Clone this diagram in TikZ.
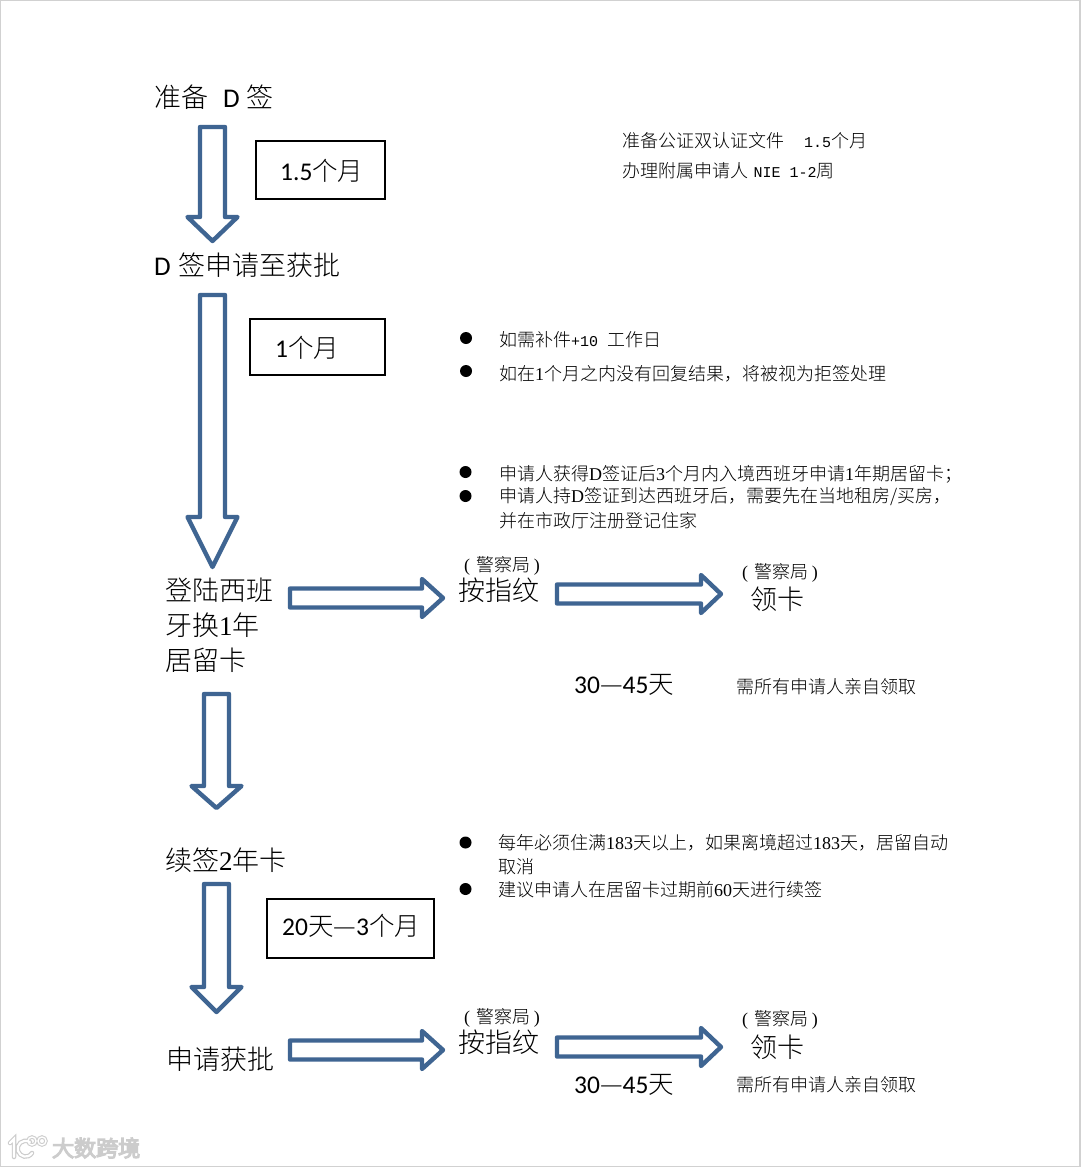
\documentclass[tikz,border=0pt]{standalone}
\usepackage{fontspec}
\setmainfont[UprightFont=* Light,BoldFont=*]{Noto Sans CJK SC}
\newfontfamily\latf{Carlito}
\newfontfamily\monof[Scale=0.833]{Liberation Mono}
\newfontfamily\serf{Liberation Serif}
\newcommand\lat[1]{{\latf #1}}
\newcommand\mn[1]{{\monof #1}}
\newcommand\sr[1]{{\serf #1}}
\usetikzlibrary{calc}
\definecolor{arrowblue}{HTML}{3F6592}
\newcommand\vblock[5]{\draw[blockarrow] ($(#1)+(-#3,0)$) -- ($(#1)+(#3,0)$) -- ($(#2)+(#3,-#5)$) -- ($(#2)+(#4,-#5)$) -- (#2) -- ($(#2)+(-#4,-#5)$) -- ($(#2)+(-#3,-#5)$) -- cycle;}
\newcommand\hblock[5]{\draw[blockarrow] ($(#1)+(0,-#3)$) -- ($(#1)+(0,#3)$) -- ($(#2)+(-#5,#3)$) -- ($(#2)+(-#5,#4)$) -- (#2) -- ($(#2)+(-#5,-#4)$) -- ($(#2)+(-#5,-#3)$) -- cycle;}
\tikzset{
  blockarrow/.style={draw=arrowblue,line width=4.4pt,line join=round,fill=white},
  big/.style={anchor=west,inner sep=0pt,font=\fontsize{27}{27}\selectfont},
  mid/.style={anchor=west,inner sep=0pt,font=\fontsize{25.5}{25.5}\selectfont},
  small/.style={anchor=west,inner sep=0pt,font=\fontsize{18}{18}\selectfont,text=black},
  police/.style={anchor=center,inner sep=0pt,font=\fontsize{18}{18}\selectfont,text=black},
  timebox/.style={draw=black,line width=2pt,fill=white},
  dotmark/.style={circle,fill=black,inner sep=0pt,minimum size=12pt},
  wm/.style={anchor=west,inner sep=0pt,font=\fontsize{22}{22}\selectfont}
}
\newcommand\plc{{\serf(}\hspace{0.35em}警察局\hspace{0.2em}{\serf)}}
\begin{document}
\begin{tikzpicture}[x=1pt,y=-1pt]
\useasboundingbox (0,0) rectangle (1080,1167);
\fill[white] (0,0) rectangle (1080,1167);
\draw[black!18,line width=1.5pt] (0,0) rectangle (1080,1167);
% arrow end points
\coordinate (a1s) at (212.5,127); \coordinate (a1e) at (212.5,241);
\coordinate (a2s) at (212.5,295); \coordinate (a2e) at (212.5,567);
\coordinate (a3s) at (216.5,694); \coordinate (a3e) at (216.5,808);
\coordinate (a4s) at (216.5,884); \coordinate (a4e) at (216.5,1012);
\coordinate (h1s) at (290,598); \coordinate (h1e) at (443,598);
\coordinate (h2s) at (557,594); \coordinate (h2e) at (721,594);
\coordinate (h3s) at (290,1050); \coordinate (h3e) at (443,1050);
\coordinate (h4s) at (557,1047); \coordinate (h4e) at (721,1047);
\vblock{a1s}{a1e}{12.5}{25}{24}
\vblock{a2s}{a2e}{12.5}{25}{50}
\vblock{a3s}{a3e}{12.5}{25}{22}
\vblock{a4s}{a4e}{12.5}{25}{25}
\hblock{h1s}{h1e}{9.5}{19}{21}
\hblock{h2s}{h2e}{9.5}{19}{20}
\hblock{h3s}{h3e}{9.5}{19}{21}
\hblock{h4s}{h4e}{9.5}{19}{20}
% boxes
\node[timebox,minimum width=129pt,minimum height=58pt] (b1) at (320.5,170) {};
\node[timebox,minimum width=135pt,minimum height=56pt] (b2) at (317.5,347) {};
\node[timebox,minimum width=167pt,minimum height=59pt] (b3) at (350.5,928.5) {};
\node[mid] (tb1) at (280,171) {\lat{1.5}个月};
\node[mid] (tb2) at (275,348) {\lat{1}个月};
\node[mid] (tb3) at (282,926) {\lat{20}天—\lat{3}个月};
% stages
\node[big] (s1) at (154,97) {准备\hspace{0.55em}\lat{D}\hspace{0.25em}签};
\node[big] (s2) at (154,265) {\lat{D}\hspace{0.3em}签申请至获批};
\node[big] (s3a) at (165,590) {登陆西班};
\node[big] (s3b) at (165,625) {牙换{\serf 1}年};
\node[big] (s3c) at (165,660) {居留卡};
\node[big] (s4) at (165,860) {续签{\serf 2}年卡};
\node[big] (s5) at (166,1059) {申请获批};
\node[big] (f1) at (458,590) {按指纹};
\node[big] (c1) at (750,599) {领卡};
\node[big] (f2) at (458,1042) {按指纹};
\node[big] (c2) at (750,1047) {领卡};
\node[police] (p1) at (502,566) {\plc};
\node[police] (p2) at (780,573) {\plc};
\node[police] (p3) at (502,1018) {\plc};
\node[police] (p4) at (780,1020) {\plc};
\node[mid] (d1) at (574,685) {\lat{30}—\lat{45}天};
\node[mid] (d2) at (574,1085) {\lat{30}—\lat{45}天};
\node[small] (n1) at (736,687) {需所有申请人亲自领取};
\node[small] (n2) at (736,1085) {需所有申请人亲自领取};
% notes
\node[small] (t1) at (622,141) {准备公证双认证文件\hspace{1.1em}\mn{1.5}个月};
\node[small] (t2) at (622,171) {办理附属申请人\hspace{0.3em}\mn{NIE 1-2}周};
\node[dotmark] (m1) at (466,338) {};
\node[dotmark] (m2) at (466,371) {};
\node[dotmark] (m3) at (465.5,472) {};
\node[dotmark] (m4) at (465.5,496) {};
\node[dotmark] (m5) at (465.5,842.5) {};
\node[dotmark] (m6) at (465.5,889) {};
\node[small] (t3) at (499,340) {如需补件\mn{+10 }工作日};
\node[small] (t4) at (499,374) {如在\sr{1}个月之内没有回复结果，将被视为拒签处理};
\node[small] (t5) at (499,474) {申请人获得\sr{D}签证后\sr{3}个月内入境西班牙申请\sr{1}年期居留卡；};
\node[small] (t6) at (499,497) {申请人持\sr{D}签证到达西班牙后，需要先在当地租房/买房，};
\node[small] (t7) at (499,521) {并在市政厅注册登记住家};
\node[small] (t8) at (498,843) {每年必须住满\sr{183}天以上，如果离境超过\sr{183}天，居留自动};
\node[small] (t9) at (498,867) {取消};
\node[small] (t10) at (498,890) {建议申请人在居留卡过期前\sr{60}天进行续签};
% watermark: one text, white fill with a grey outline
\node[wm,text=white] (wm) at (52,1148) {\special{pdf:code 2 Tr 1.6 w 0.8 G}大数跨境\special{pdf:code 0 Tr}};
\newcommand\logopath{(10,1143) -- (14,1139) -- (14,1157) (30,1142) .. controls (22,1138) and (16,1145) .. (18,1151) .. controls (20,1157) and (28,1159) .. (32,1153)}
\draw[black!20,line width=4.5pt,line cap=round] \logopath;
\draw[black!20,line width=3.5pt] (32,1141) circle (4) (42,1141) circle (4);
\draw[white,line width=2.2pt,line cap=round] \logopath;
\draw[white,line width=1.4pt] (32,1141) circle (4) (42,1141) circle (4);
\end{tikzpicture}
\end{document}
